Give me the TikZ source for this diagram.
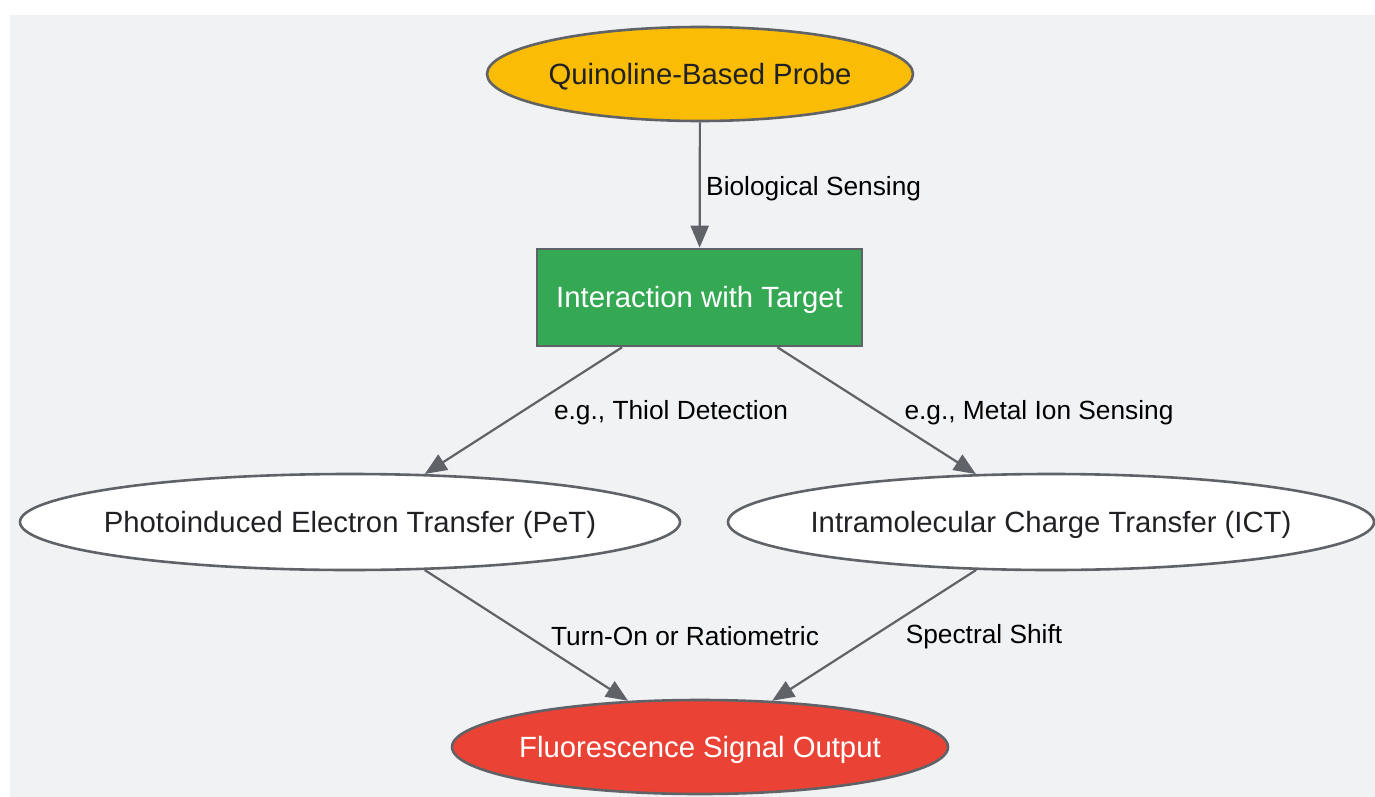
\documentclass[tikz,border=0pt]{standalone}
\usepackage{fontspec}
\setmainfont{Liberation Sans}
\usetikzlibrary{shapes.geometric,arrows.meta}
\definecolor{bgc}{HTML}{F1F2F4}
\definecolor{strk}{HTML}{5F6368}
\definecolor{ylw}{HTML}{FBBC05}
\definecolor{grn}{HTML}{34A853}
\definecolor{rdc}{HTML}{EA4335}
\definecolor{txt}{HTML}{202124}
\tikzset{
  nodefont/.style={font=\fontsize{29.3}{34}\selectfont, yshift=-2.5pt},
  ellnode/.style={ellipse, draw=strk, line width=2.6pt, inner sep=0pt},
  boxnode/.style={rectangle, draw=strk, line width=2.6pt, inner sep=0pt},
  edge/.style={draw=strk, line width=2.2pt, -{Triangle[length=22pt,width=18pt]}},
  elabel/.style={font=\fontsize{26.3}{30}\selectfont, text=black, inner sep=0pt, yshift=-2.5pt}
}
\begin{document}
\begin{tikzpicture}[x=1pt,y=-1pt]
\useasboundingbox (0,0) rectangle (1375,797);
\fill[bgc] (10,15) rectangle (1375,797);
\node[ellnode, fill=ylw, minimum width=426, minimum height=94,
  label={[nodefont, text=txt]center:Quinoline-Based Probe}] (probe) at (700,74) {};
\node[boxnode, fill=grn, minimum width=325, minimum height=97,
  label={[nodefont, text=white]center:Interaction with Target}] (inter) at (699.5,297.5) {};
\node[ellnode, fill=white, minimum width=660, minimum height=96,
  label={[nodefont, text=txt]center:Photoinduced Electron Transfer (PeT)}] (pet) at (350,522) {};
\node[ellnode, fill=white, minimum width=646, minimum height=96,
  label={[nodefont, text=txt]center:Intramolecular Charge Transfer (ICT)}] (ict) at (1051,522) {};
\node[ellnode, fill=rdc, minimum width=496, minimum height=94,
  label={[nodefont, text=white]center:Fluorescence Signal Output}] (out) at (700,747) {};
\draw[edge] (probe) -- (inter);
\draw[edge] (inter) -- (pet);
\draw[edge] (inter) -- (ict);
\draw[edge] (pet) -- (out);
\draw[edge] (ict) -- (out);
\node[elabel, anchor=west] (l0) at (706,186) {Biological Sensing};
\node[elabel] (l1) at (671,410) {e.g., Thiol Detection};
\node[elabel] (l2) at (1039,410) {e.g., Metal Ion Sensing};
\node[elabel] (l3) at (685,634) {Turn-On or Ratiometric};
\node[elabel] (l4) at (984,634) {Spectral Shift};
\end{tikzpicture}
\end{document}
